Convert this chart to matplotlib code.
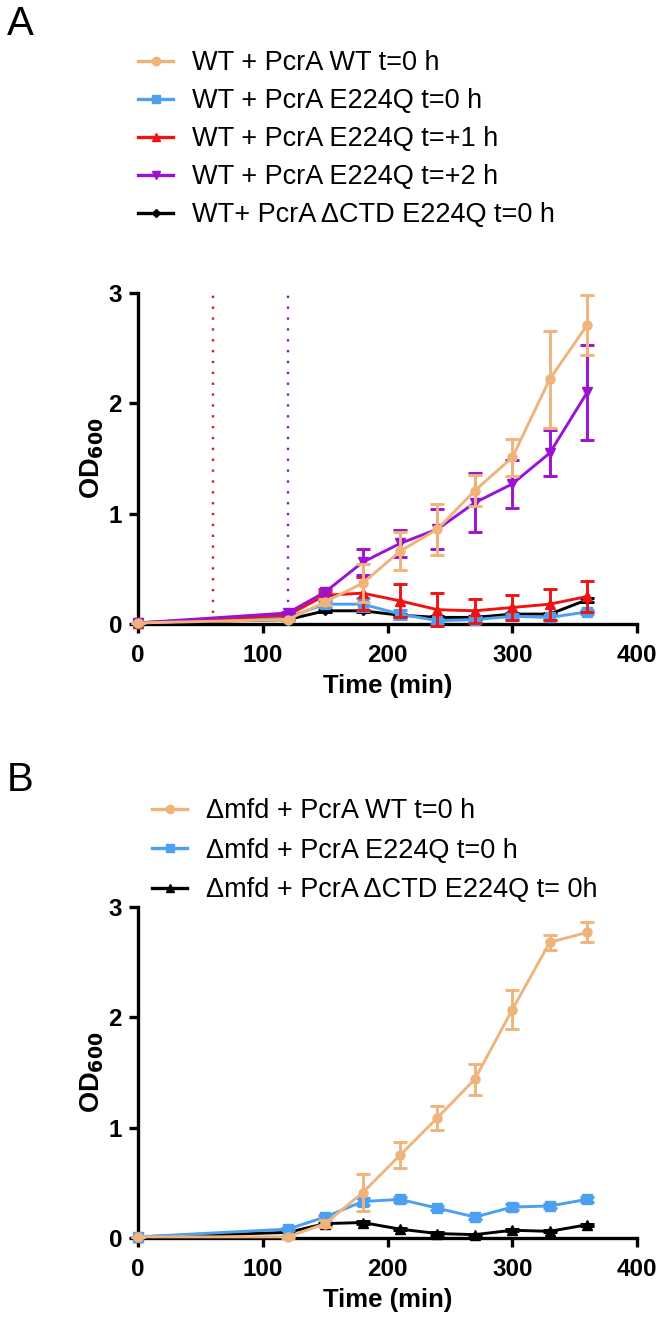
import matplotlib
matplotlib.use("Agg")
import matplotlib.pyplot as plt
from matplotlib.lines import Line2D

plt.rcParams["font.family"] = ["Liberation Sans", "DejaVu Sans"]

# time points (min)
time = [0, 120, 150, 180, 210, 240, 270, 300, 330, 360]

# panel A
a_labels = [
    "WT + PcrA WT t=0 h",
    "WT + PcrA E224Q t=0 h",
    "WT + PcrA E224Q t=+1 h",
    "WT + PcrA E224Q t=+2 h",
    "WT+ PcrA \u0394CTD E224Q t=0 h",
]
a_wt = [0.01, 0.04, 0.20, 0.37, 0.66, 0.86, 1.21, 1.51, 2.22, 2.71]
a_wt_err = [0, 0.01, 0.03, 0.17, 0.17, 0.23, 0.14, 0.17, 0.44, 0.27]
a_e0 = [0.01, 0.06, 0.18, 0.18, 0.09, 0.03, 0.04, 0.07, 0.06, 0.11]
a_e0_err = [0, 0.01, 0.03, 0.06, 0.04, 0.02, 0.02, 0.02, 0.02, 0.02]
a_e1 = [0.01, 0.08, 0.26, 0.28, 0.21, 0.13, 0.12, 0.15, 0.18, 0.25]
a_e1_err = [0, 0.01, 0.03, 0.15, 0.15, 0.15, 0.11, 0.11, 0.14, 0.14]
a_e2 = [0.01, 0.10, 0.29, 0.56, 0.73, 0.86, 1.10, 1.27, 1.55, 2.10]
a_e2_err = [0, 0.01, 0.03, 0.12, 0.12, 0.18, 0.27, 0.22, 0.21, 0.43]
a_ctd = [0.01, 0.04, 0.12, 0.12, 0.08, 0.06, 0.06, 0.09, 0.09, 0.22]
a_ctd_err = [0, 0, 0.01, 0.01, 0.01, 0.01, 0.01, 0.01, 0.01, 0.02]
a_lines = [60, 120]  # addition times for t=+1 h and t=+2 h

# panel B
b_labels = [
    "\u0394mfd + PcrA WT t=0 h",
    "\u0394mfd + PcrA E224Q t=0 h",
    "\u0394mfd + PcrA \u0394CTD E224Q t= 0h",
]
b_wt = [0.01, 0.01, 0.13, 0.41, 0.75, 1.09, 1.44, 2.07, 2.68, 2.77]
b_wt_err = [0, 0.01, 0.03, 0.17, 0.12, 0.11, 0.14, 0.18, 0.07, 0.09]
b_e0 = [0.01, 0.08, 0.19, 0.33, 0.35, 0.27, 0.19, 0.28, 0.29, 0.35]
b_e0_err = [0, 0.01, 0.02, 0.03, 0.02, 0.02, 0.02, 0.03, 0.02, 0.02]
b_ctd = [0.01, 0.05, 0.13, 0.14, 0.08, 0.04, 0.03, 0.07, 0.06, 0.12]
b_ctd_err = [0, 0, 0.01, 0.01, 0.01, 0.01, 0.01, 0.01, 0.01, 0.01]

orange = "#F0B47A"
blue = "#4D9FF0"
red = "#EE1414"
purple = "#9A12D6"
black = "#000000"


def style_axes(ax):
    ax.set_xlim(0, 400)
    ax.set_ylim(0, 3)
    ax.set_xticks([0, 100, 200, 300, 400])
    ax.set_yticks([0, 1, 2, 3])
    for s in ["top", "right"]:
        ax.spines[s].set_visible(False)
    for s in ["left", "bottom"]:
        ax.spines[s].set_linewidth(2.4)
    ax.tick_params(width=2.4, length=6.5, labelsize=17.5, pad=5)
    ax.tick_params(axis="x", pad=8)
    for lab in ax.get_xticklabels() + ax.get_yticklabels():
        lab.set_fontweight("bold")
    ax.set_xlabel("Time (min)", fontsize=18.5, fontweight="bold", labelpad=5)
    ax.set_ylabel("OD$_{\\mathbf{600}}$", fontsize=19.5, fontweight="bold", labelpad=2)


def series(ax, y, err, color, marker, ms, z):
    ax.errorbar(time, y, yerr=err, color=color, marker=marker, ms=ms, lw=2.1,
                elinewidth=2.1, capsize=4.8, capthick=2.1, zorder=z, clip_on=False)


fig = plt.figure(figsize=(6.61, 13.28), dpi=100)

# ---- panel A
axA = fig.add_axes([0.2088, 0.5301, 0.755, 0.2492])
for xv, c in zip(a_lines, ["#D42020", purple]):
    axA.plot([xv, xv], [0.1, 3], color=c, lw=1.7, ls=(0, (1, 3.6)), zorder=1)
series(axA, a_ctd, a_ctd_err, black, "D", 4.5, 3)
series(axA, a_e0, a_e0_err, blue, "s", 7, 4)
series(axA, a_e1, a_e1_err, red, "^", 6.5, 5)
series(axA, a_e2, a_e2_err, purple, "v", 7, 6)
series(axA, a_wt, a_wt_err, orange, "o", 6.5, 7)
style_axes(axA)

hA = [Line2D([], [], color=c, marker=m, ms=ms, lw=2.4)
      for c, m, ms in [(orange, "o", 6), (blue, "s", 6), (red, "^", 6),
                       (purple, "v", 6), (black, "D", 4)]]
fig.legend(hA, a_labels, loc="upper left", bbox_to_anchor=(0.209, 0.962),
           frameon=False, fontsize=19.5, handlelength=1.3, labelspacing=0.44,
           handletextpad=0.7, borderpad=0, borderaxespad=0)
fig.text(0.010, 0.982, "A", fontsize=29, va="center")

# ---- panel B
axB = fig.add_axes([0.2088, 0.0678, 0.755, 0.2492])
series(axB, b_ctd, b_ctd_err, black, "^", 6.5, 3)
series(axB, b_e0, b_e0_err, blue, "s", 7, 4)
series(axB, b_wt, b_wt_err, orange, "o", 6.5, 5)
style_axes(axB)

hB = [Line2D([], [], color=c, marker=m, ms=6, lw=2.4)
      for c, m in [(orange, "o"), (blue, "s"), (black, "^")]]
fig.legend(hB, b_labels, loc="upper left", bbox_to_anchor=(0.230, 0.399),
           frameon=False, fontsize=19.5, handlelength=1.3, labelspacing=0.5,
           handletextpad=0.7, borderpad=0, borderaxespad=0)
fig.text(0.010, 0.413, "B", fontsize=29, va="center")

fig.savefig("out.png", dpi=100)
